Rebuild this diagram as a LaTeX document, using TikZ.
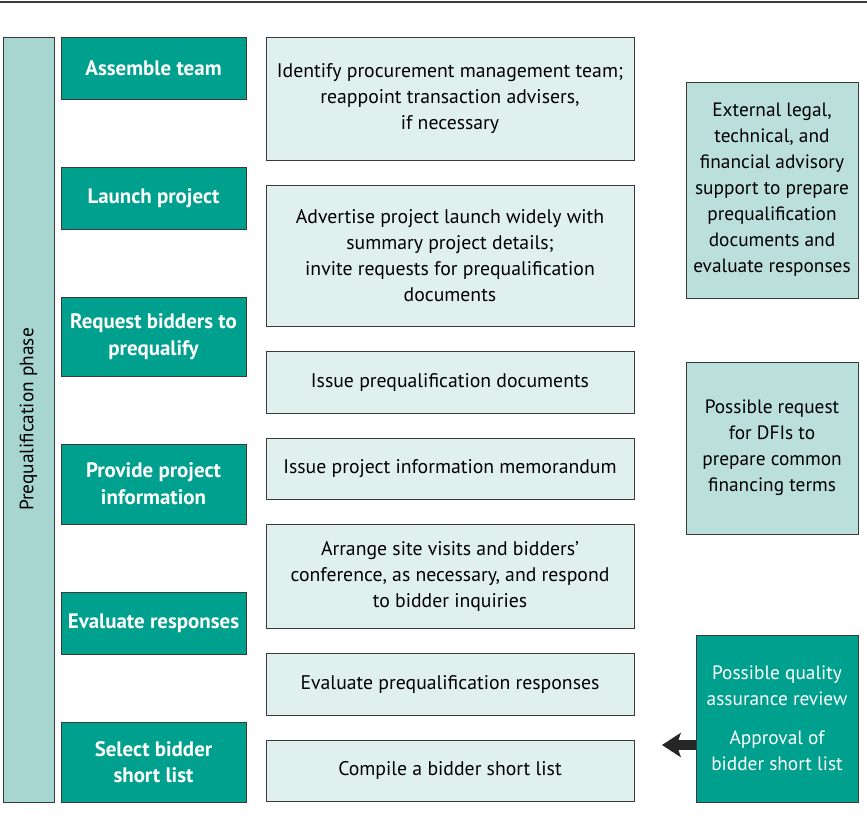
\documentclass[tikz,border=0pt]{standalone}
\usepackage{fontspec}
\setmainfont{PT Sans}
\usetikzlibrary{arrows.meta}

\definecolor{tealdark}{HTML}{00A08E}
\definecolor{tealmid}{HTML}{A6D6CF}
\definecolor{teallight}{HTML}{BBDFDA}
\definecolor{tealpale}{HTML}{E0F0EE}
\definecolor{edgegray}{HTML}{3A3A3A}

\tikzset{
  boxsize/.style 2 args={minimum width=#1*0.75pt, minimum height=#2*0.75pt},
  stagebox/.style={draw=edgegray, fill=tealdark, text=white, align=center,
    inner sep=0pt, font=\bfseries\fontsize{15.7}{20}\selectfont},
  taskbox/.style={draw=edgegray, fill=tealpale, align=center, inner sep=0pt,
    font=\fontsize{14.8}{19.5}\selectfont},
  sidebox/.style={draw=edgegray, fill=teallight, align=center, inner sep=0pt,
    font=\fontsize{14.5}{19.5}\selectfont},
}

\begin{document}
\begin{tikzpicture}[x=0.75pt, y=-0.75pt]

    % 1. Page frame and top rule
    \useasboundingbox (0,0) rectangle (867,820);
    \draw [edgegray, line width=1.5pt] (0,2) -- (867,2);

    % 2. Phase bar on the left
    \node [draw=edgegray, fill=tealmid, boxsize={51}{765}, inner sep=0pt] (bar) at (28.5,419.5) {};
    \node [rotate=90, font=\fontsize{14.5}{19.5}\selectfont] at (bar.center) {Prequalification phase};

    % 3. Stage boxes (dark)
    \node [stagebox, boxsize={185}{62}] (assemble) at (153.5,68) {Assemble team};
    \node [stagebox, boxsize={185}{62}] (launch) at (153.5,198) {Launch project};
    \node [stagebox, boxsize={185}{79}] (request) at (153.5,336.5) {Request bidders to\\prequalify};
    \node [stagebox, boxsize={185}{80}] (provide) at (153.5,484) {Provide project\\information};
    \node [stagebox, boxsize={185}{62}] (evaluate) at (153.5,623) {Evaluate responses};
    \node [stagebox, boxsize={185}{80}] (select) at (153.5,762) {Select bidder\\short list};

    % 4. Task boxes (pale)
    \node [taskbox, boxsize={368}{123}] (identify) at (450,98.5)
      {Identify procurement management team;\\reappoint transaction advisers,\\if necessary};
    \node [taskbox, boxsize={368}{141}] (advertise) at (450,255.5)
      {Advertise project launch widely with\\summary project details;\\invite requests for prequalification\\documents};
    \node [taskbox, boxsize={368}{62}] (issuedocs) at (450,382) {Issue prequalification documents};
    \node [taskbox, boxsize={368}{61}] (issuememo) at (450,468.5) {Issue project information memorandum};
    \node [taskbox, boxsize={368}{104}] (arrange) at (450,576)
      {Arrange site visits and bidders'\\conference, as necessary, and respond\\to bidder inquiries};
    \node [taskbox, boxsize={368}{62}] (evalresp) at (450,684) {Evaluate prequalification responses};
    \node [taskbox, boxsize={368}{61}] (compile) at (450,770.5) {Compile a bidder short list};

    % 5. Support boxes on the right
    \node [sidebox, boxsize={172}{216}] (advisory) at (772,190)
      {External legal,\\technical, and\\financial advisory\\support to prepare\\prequalification\\documents and\\evaluate responses};
    \node [sidebox, boxsize={172}{172}] (dfis) at (772,448)
      {Possible request\\for DFIs to\\prepare common\\financing terms};
    \node [stagebox, boxsize={162}{167}, font=\fontsize{14.5}{19.5}\selectfont] (review) at (777,718.5)
      {Possible quality\\assurance review\\[10pt]Approval of\\bidder short list};

    % 6. Arrow from review box toward the short list
    \coordinate (arrowtip) at (662,745);
    \draw [line width=7.5pt, -{Stealth[length=14pt, width=18pt, inset=3pt]}, black!85]
      (arrowtip -| review.west) -- (arrowtip);

\end{tikzpicture}
\end{document}
